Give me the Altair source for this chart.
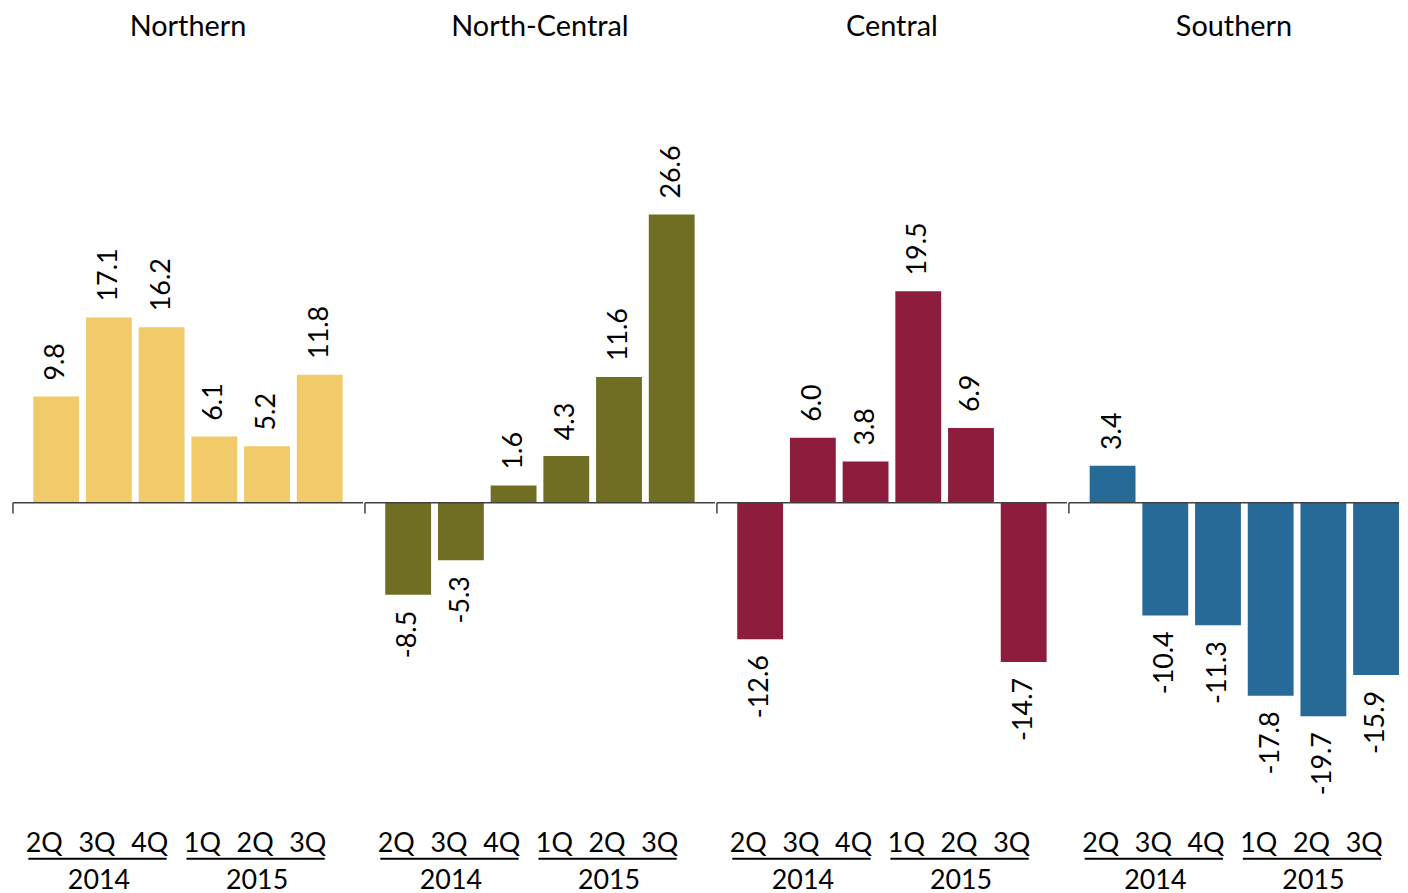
import altair as alt
import pandas as pd

regions = ["Northern", "North-Central", "Central", "Southern"]
colors = ["#F1CB6A", "#706E23", "#8D1C3D", "#276A98"]
quarters = ["2Q", "3Q", "4Q", "1Q", "2Q", "3Q"]
years = ["2014", "2014", "2014", "2015", "2015", "2015"]
northern = [9.8, 17.1, 16.2, 6.1, 5.2, 11.8]
north_central = [-8.5, -5.3, 1.6, 4.3, 11.6, 26.6]
central = [-12.6, 6.0, 3.8, 19.5, 6.9, -14.7]
southern = [3.4, -10.4, -11.3, -17.8, -19.7, -15.9]
series = [northern, north_central, central, southern]

keys = [f"{y}-{q}" for y, q in zip(years, quarters)]

H = 760
W = 352
W_LAST = 332
FONT = "Lato"
FS = 27
YDOM = [-29.08, 40.64]

panels = []
for i, (reg, col, vals) in enumerate(zip(regions, colors, series)):
    df = pd.DataFrame({"key": keys, "quarter": quarters, "year": years, "value": vals,
                       "label": [f"{v:.1f}" for v in vals]})
    grp = pd.DataFrame({
        "year": ["2014", "2015"],
        "first": [keys[0], keys[3]],
        "last": [keys[2], keys[5]],
        "mid": [keys[1], keys[4]],
    })
    last = i == len(regions) - 1
    w = W_LAST if last else W
    xscale = alt.Scale(domain=keys, paddingInner=0.13,
                       paddingOuter=0.197 if last else 0.385,
                       align=1 if last else 0.5)
    xaxis = alt.Axis(title=None, domain=False, ticks=False, labelAngle=0,
                     labelFont=FONT, labelFontSize=FS, labelColor="black",
                     labelPadding=13, labelOffset=-12,
                     labelExpr="split(datum.value, '-')[1]")
    yenc = alt.Y("value:Q", scale=alt.Scale(domain=YDOM, nice=False, zero=False), axis=None)

    base = alt.Chart(df)
    bars = base.mark_bar(color=col).encode(
        x=alt.X("key:N", sort=keys, scale=xscale, axis=xaxis), y=yenc)
    pos = base.transform_filter("datum.value >= 0").mark_text(
        angle=270, align="left", baseline="middle", dx=16, font=FONT, fontSize=FS, color="black"
    ).encode(x=alt.X("key:N", sort=keys, scale=xscale, axis=xaxis), y=yenc,
             text="label:N")
    neg = base.transform_filter("datum.value < 0").mark_text(
        angle=270, align="right", baseline="middle", dx=-16, font=FONT, fontSize=FS, color="black"
    ).encode(x=alt.X("key:N", sort=keys, scale=xscale, axis=xaxis), y=yenc,
             text="label:N")
    zero = alt.Chart(pd.DataFrame({"z": [0]})).mark_rule(color="#404040", strokeWidth=1.5).encode(
        y=alt.Y("z:Q", scale=alt.Scale(domain=YDOM, nice=False, zero=False), axis=None),
        x=alt.value(0), x2=alt.value(w))
    tick = alt.Chart(pd.DataFrame({"z": [0], "z2": [-1]})).mark_rule(color="#404040", strokeWidth=1.5).encode(
        y=alt.Y("z:Q", scale=alt.Scale(domain=YDOM, nice=False, zero=False), axis=None),
        y2="z2:Q", x=alt.value(0))
    under = alt.Chart(grp).mark_rule(color="black", strokeWidth=2, xOffset=-28, x2Offset=5).encode(
        x=alt.X("first:N", sort=keys, scale=xscale, axis=xaxis), x2="last:N", y=alt.value(H + 41))
    yr = alt.Chart(grp).mark_text(dx=-10, baseline="middle", font=FONT, fontSize=FS, color="black").encode(
        x=alt.X("mid:N", sort=keys, scale=xscale, axis=xaxis), y=alt.value(H + 64), text="year:N")

    panel = alt.layer(bars, pos, neg, zero, tick, under, yr).properties(
        width=w, height=H,
        title=alt.TitleParams(reg, fontSize=29, font=FONT, fontWeight="normal", color="black",
                              anchor="middle", offset=20))
    panels.append(panel)

chart = alt.hconcat(*panels, spacing=0).properties(
    padding={"left": 4, "top": 3, "right": 0, "bottom": 0}
).configure_view(stroke=None).configure_concat(spacing=0)

chart.save("out.html", embed_options={"renderer": "svg", "actions": False})
